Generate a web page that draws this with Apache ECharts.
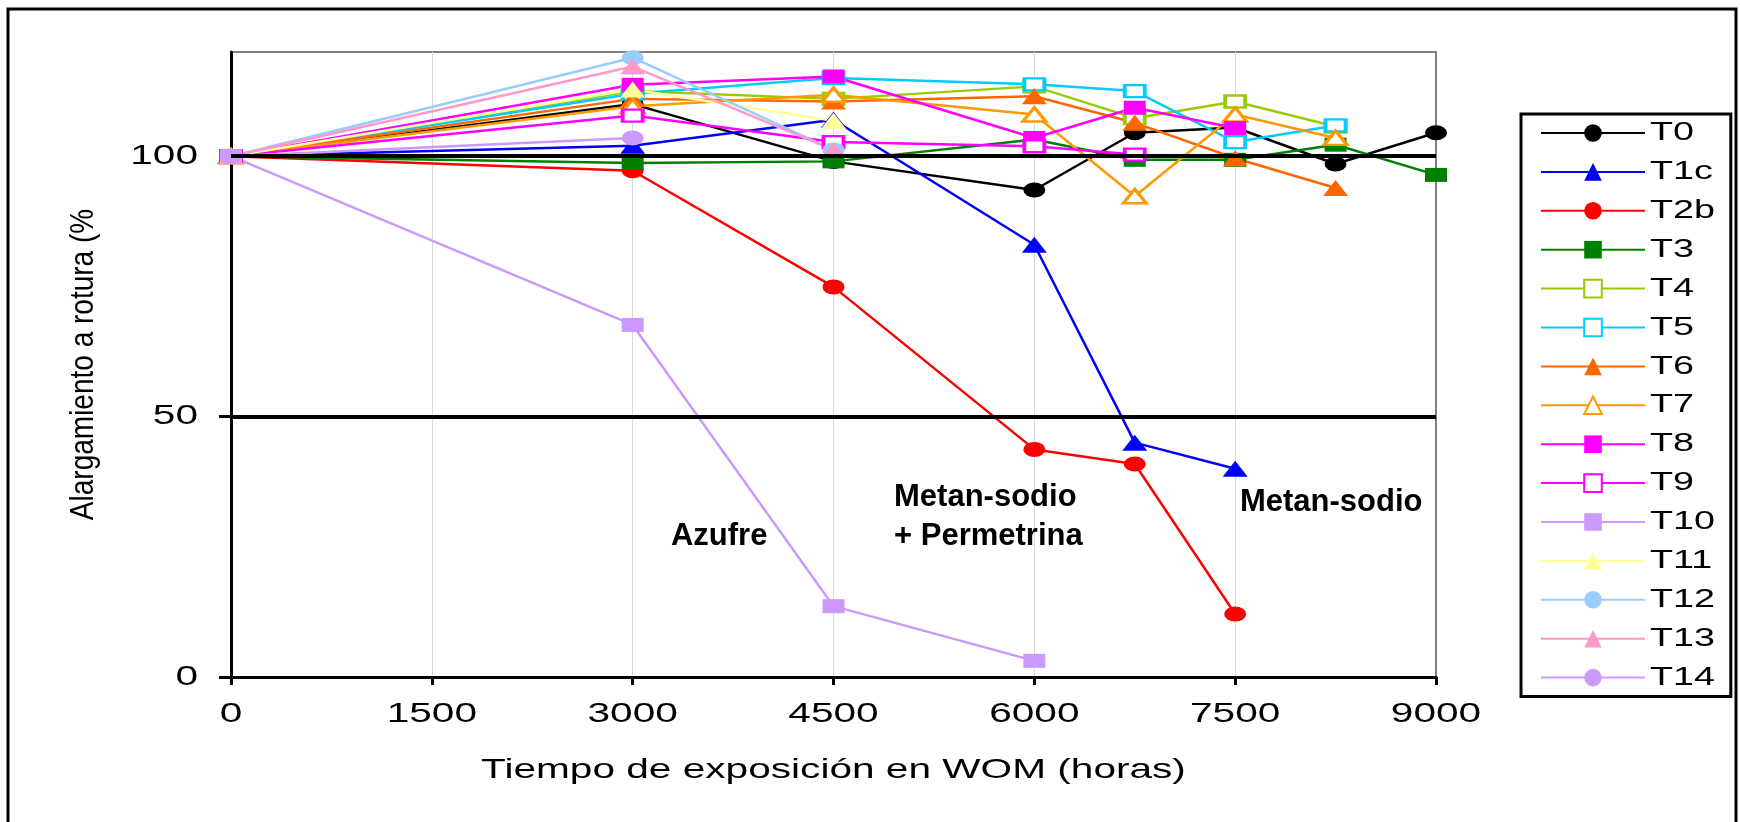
<!DOCTYPE html>
<html>
<head>
<meta charset="utf-8">
<title>Alargamiento a rotura - WOM</title>
<script src="https://cdn.jsdelivr.net/npm/echarts@6/dist/echarts.min.js"></script>
<style>
    html, body { margin: 0; padding: 0; background: #ffffff; }
    #womChart { width: 1740px; height: 822px; }
</style>
</head>
<body>
<div id="womChart"></div>
<script>
// Horas de exposicion en WOM (eje X)
var tiempos = [0, 3000, 4500, 6000, 6750, 7500, 8250, 9000];
var xTickLabels = [0, 1500, 3000, 4500, 6000, 7500, 9000];
var yTickLabels = [0, 50, 100];
var lineasReferencia = [50, 100];

// Alargamiento a rotura (%) por tratamiento
var nombres = ['T0', 'T1c', 'T2b', 'T3', 'T4', 'T5', 'T6', 'T7', 'T8', 'T9', 'T10', 'T11', 'T12', 'T13', 'T14'];
var valT0  = [100, 110, 99, 93.5, 104.5, 105.5, 98.5, 104.5];
var valT1c = [100, 102, 107, 83, 45, 40];
var valT2b = [100, 97.2, 74.9, 43.7, 40.9, 12.1];
var valT3  = [100, 98.7, 99, 103.2, 99.3, 99.3, 102.2, 96.4];
var valT4  = [100, 112.5, 111, 113.4, 107.3, 110.5, 105.7];
var valT5  = [100, 112, 115, 113.8, 112.5, 102.7, 105.9];
var valT6  = [100, 111, 110.5, 111.5, 106.4, 99.6, 93.9];
var valT7  = [100, 109.6, 111.8, 108, 92.3, 108, 103.5];
var valT8  = [100, 113.7, 115.3, 103.5, 109.3, 105.4];
var valT9  = [100, 107.8, 102.7, 101.9, 100.3];
var valT10 = [100, 67.6, 13.6, 3.1];
var valT11 = [100, 112.8, 106.8];
var valT12 = [100, 118.9, 101.2];
var valT13 = [100, 117.2, 101.2];
var valT14 = [100, 103.5];

// Textos dentro del grafico: [texto, horas, %]
var anotaciones = [
    ['Azufre', 3286, 26.9],
    ['Metan-sodio\n+ Permetrina', 4952, 30.7],
    ['Metan-sodio', 7536, 33.6]
];

// El original esta estirado en horizontal: el texto con familia "Arial"
// se ensancha en pantalla alrededor de su punto de anclaje
(function () {
    var proto = CanvasRenderingContext2D.prototype;
    var fillOriginal = proto.fillText;
    proto.fillText = function (text, x, y, maxWidth) {
        if (!/px Arial/.test(this.font)) {
            return maxWidth === undefined
                ? fillOriginal.call(this, text, x, y)
                : fillOriginal.call(this, text, x, y, maxWidth);
        }
        var m = this.getTransform();
        var girado = Math.abs(m.b) > 1e-6;
        var f = girado ? 1.2 : 1.45;
        var p = m.transformPoint({ x: x, y: y });
        var estirada = new DOMMatrix()
            .translate(p.x, p.y).scale(f, 1).translate(-p.x, -p.y)
            .multiply(m);
        this.setTransform(estirada);
        if (maxWidth === undefined) {
            fillOriginal.call(this, text, x, y);
        } else {
            fillOriginal.call(this, text, x, y, maxWidth);
        }
        this.setTransform(m);
    };
})();

document.addEventListener('DOMContentLoaded', function () {
    var fuente = 'Arial, "Liberation Sans", sans-serif';
    var fuenteNotas = '"Liberation Sans", sans-serif';

    var valores = [valT0, valT1c, valT2b, valT3, valT4, valT5, valT6, valT7,
                   valT8, valT9, valT10, valT11, valT12, valT13, valT14];

    // Estilo de cada serie (color, simbolo, hueco o relleno)
    var estilos = [
        { color: '#000000', symbol: 'circle', size: [22, 15] },
        { color: '#0000FF', symbol: 'triangle', size: [25, 16] },
        { color: '#FF0000', symbol: 'circle', size: [22, 15] },
        { color: '#008000', symbol: 'rect', size: [22, 14] },
        { color: '#99CC00', symbol: 'rect', size: [20, 12], hueco: true },
        { color: '#00CCFF', symbol: 'rect', size: [20, 12], hueco: true },
        { color: '#FF6600', symbol: 'triangle', size: [25, 16] },
        { color: '#FF9900', symbol: 'triangle', size: [23, 14], hueco: true },
        { color: '#FF00FF', symbol: 'rect', size: [22, 14] },
        { color: '#FF00FF', symbol: 'rect', size: [20, 12], hueco: true },
        { color: '#CC99FF', symbol: 'rect', size: [22, 14] },
        { color: '#FFFF99', symbol: 'triangle', size: [25, 16] },
        { color: '#99CCFF', symbol: 'circle', size: [22, 15] },
        { color: '#FF99CC', symbol: 'triangle', size: [25, 16] },
        { color: '#CC99FF', symbol: 'circle', size: [22, 15] }
    ];

    // Serie auxiliar: lineas de 50 y 100 % y los textos
    var series = [{
        name: 'referencia',
        type: 'line',
        data: [],
        silent: true,
        markLine: {
            silent: true,
            symbol: ['none', 'none'],
            label: { show: false },
            lineStyle: { color: '#000', width: 4, type: 'solid' },
            data: lineasReferencia.map(function (v) { return { yAxis: v }; })
        },
        markPoint: {
            silent: true,
            symbol: 'circle',
            symbolSize: 0,
            label: {
                show: true,
                position: 'right',
                distance: 0,
                formatter: '{b}',
                color: '#000',
                fontFamily: fuenteNotas,
                fontWeight: 'bold',
                fontSize: 31,
                lineHeight: 39,
                align: 'left'
            },
            data: anotaciones.map(function (a) {
                return { name: a[0], coord: [a[1], a[2]] };
            })
        }
    }];

    nombres.forEach(function (nombre, i) {
        var est = estilos[i];
        var data = valores[i].map(function (v, j) { return [tiempos[j], v]; });
        series.push({
            name: nombre,
            type: 'line',
            data: data,
            symbol: est.symbol,
            symbolSize: est.size,
            showAllSymbol: true,
            lineStyle: { color: est.color, width: 2.5 },
            itemStyle: est.hueco
                ? { color: '#ffffff', borderColor: est.color, borderWidth: 3 }
                : { color: est.color, borderWidth: 0 },
            emphasis: { disabled: true }
        });
    });

    var chartElement = document.getElementById('womChart');
    var chart = echarts.init(chartElement, null, { renderer: 'canvas' });

    var option = {
        animation: false,
        backgroundColor: '#ffffff',
        textStyle: { fontFamily: fuente },
        graphic: [{
            type: 'rect',
            silent: true,
            z: -10,
            shape: { x: 8, y: 9, width: 1728, height: 830 },
            style: { fill: 'none', stroke: '#000', lineWidth: 3 }
        }],
        grid: {
            left: 231,
            right: 304,
            top: 52,
            bottom: 145,
            show: true,
            borderColor: '#808080',
            borderWidth: 2,
            outerBoundsMode: 'none'
        },
        legend: {
            orient: 'vertical',
            left: 1521,
            top: 114,
            data: nombres,
            itemWidth: 104,
            itemHeight: 22,
            itemGap: 12.9,
            padding: [6, 36, 6, 19],
            borderColor: '#000',
            borderWidth: 3,
            selectedMode: false,
            lineStyle: { width: 2 },
            textStyle: { fontSize: 26, color: '#000', fontFamily: fuente }
        },
        xAxis: {
            type: 'value',
            min: 0,
            max: 9000,
            interval: 750,
            name: 'Tiempo de exposición en WOM (horas)',
            nameLocation: 'middle',
            nameGap: 79,
            nameTextStyle: { fontSize: 28, color: '#000', fontFamily: fuente },
            axisLine: { lineStyle: { color: '#000', width: 3 } },
            axisTick: { show: true, customValues: xTickLabels, length: 8, lineStyle: { color: '#000', width: 3 } },
            axisLabel: {
                customValues: xTickLabels,
                margin: 23,
                fontSize: 28,
                color: '#000',
                fontFamily: fuente,
                formatter: function (v) { return String(v); }
            },
            splitLine: { show: true, showMinLine: false, showMaxLine: false, lineStyle: { color: '#d9d9d9', width: 1 } }
        },
        yAxis: {
            type: 'value',
            min: 0,
            max: 120,
            interval: 10,
            name: 'Alargamiento a rotura (%',
            nameLocation: 'middle',
            nameGap: 133,
            nameRotate: 90,
            nameTextStyle: { fontSize: 28, color: '#000', fontFamily: fuente },
            axisLine: { show: true, lineStyle: { color: '#000', width: 3 } },
            axisTick: { show: true, customValues: yTickLabels, length: 12, lineStyle: { color: '#000', width: 3 } },
            axisLabel: {
                customValues: yTickLabels,
                margin: 33,
                fontSize: 28,
                color: '#000',
                fontFamily: fuente,
                formatter: function (v) { return String(v); }
            },
            splitLine: { show: true, showMinLine: false, showMaxLine: false, lineStyle: { color: '#cfcfcf', width: 1, type: [3, 3] } }
        },
        series: series
    };

    chart.setOption(option);
    console.log('chart listo, series:', series.length);
});
</script>
</body>
</html>
